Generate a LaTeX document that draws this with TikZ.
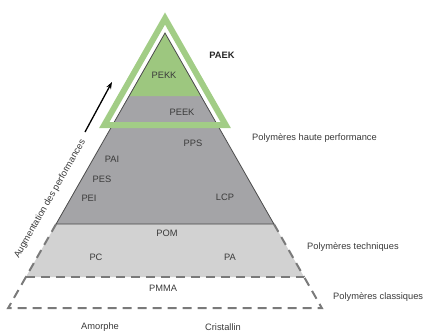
\documentclass[tikz,border=0pt]{standalone}
\usepackage{fontspec}
\setmainfont{Liberation Sans}
\usetikzlibrary{arrows.meta}
\definecolor{pgreen}{HTML}{9DC77F}
\definecolor{pgreenline}{HTML}{A2CD86}
\definecolor{pdark}{HTML}{A4A4A7}
\definecolor{plight}{HTML}{D2D2D2}
\definecolor{ptext}{HTML}{3A3A3A}
\definecolor{pdash}{HTML}{7A7A7A}
\tikzset{
  lbl/.style={text=ptext, font=\fontsize{9.3}{11}\selectfont, inner sep=0pt},
  boldlbl/.style={text=black!85, font=\fontsize{9.3}{11}\selectfont\bfseries, inner sep=0pt},
  dashline/.style={draw=pdash, line width=2pt, dash pattern=on 9pt off 6pt},
  edge/.style={draw=black!70, line width=0.8pt},
}
\begin{document}
\begin{tikzpicture}[x=1pt,y=-1pt]
\useasboundingbox (0,0) rectangle (427,333);
% key coordinates
\coordinate (apex) at (165,33);
\coordinate (gL) at (129.1,96);
\coordinate (gR) at (200.9,96);
\coordinate (dL) at (56.1,224);
\coordinate (dR) at (273.9,224);
\coordinate (lL) at (25.9,277);
\coordinate (lR) at (304.1,277);
\coordinate (bL) at (8.2,308);
\coordinate (bR) at (321.8,308);
% light gray trapezoid
\fill[plight] (dL) -- (dR) -- (lR) -- (lL) -- cycle;
% dark gray triangle
\fill[pdark] (apex) -- (dL) -- (dR) -- cycle;
% green top
\fill[pgreen] (apex) -- (gL) -- (gR) -- cycle;
% outline of dark triangle
\draw[edge, line join=miter] (dL) -- (apex) -- (dR) -- cycle;
% dashed lines
\draw[dashline] (dL) -- (lL);
\draw[dashline] (dR) -- (lR);
\draw[dashline] (lL) -- (lR);
\draw[dashline] (lL) -- (bL) -- (bR) -- (lR);
% green outline triangle
\coordinate (oA) at (165,18.5);
\coordinate (oL) at (104.3,125);
\coordinate (oR) at (225.7,125);
\draw[pgreenline, line width=6pt, line join=miter] (oA) -- (oL) -- (oR) -- cycle;
% arrow
\coordinate (arT) at (85,132);
\coordinate (arH) at (112,82);
\draw[black, line width=1.3pt, -{Stealth[length=7pt,width=5pt]}] (arT) -- (arH);
% labels
\node[lbl] (pekk) at (164,75) {PEKK};
\node[lbl] (peek) at (182,112) {PEEK};
\node[lbl] (pps) at (193,143) {PPS};
\node[lbl] (pai) at (112,159) {PAI};
\node[lbl] (pes) at (102,179) {PES};
\node[lbl] (pei) at (89,198) {PEI};
\node[lbl] (lcp) at (225,197) {LCP};
\node[lbl] (pom) at (167,233) {POM};
\node[lbl] (pc) at (96,257) {PC};
\node[lbl] (pa) at (230,257) {PA};
\node[lbl] (pmma) at (163,288) {PMMA};
\node[lbl] (amo) at (100,327) {Amorphe};
\node[lbl] (cri) at (223,327) {Cristallin};
\node[boldlbl] (paek) at (222,55) {PAEK};
\node[lbl, anchor=west] (hp) at (252,138) {Polymères haute performance};
\node[lbl, anchor=west] (tech) at (307,247) {Polymères techniques};
\node[lbl, anchor=west] (clas) at (333,297) {Polymères classiques};
\node[lbl, rotate=60.3] (aug) at (50,199) {Augmentation des performances};
\end{tikzpicture}
\end{document}
